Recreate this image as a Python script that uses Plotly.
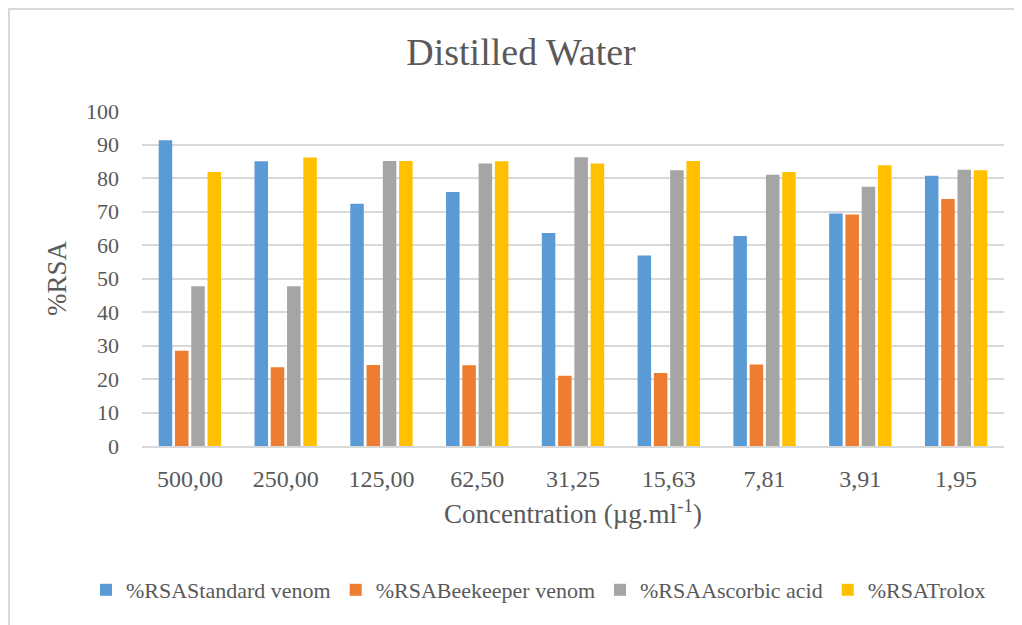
import plotly.graph_objects as go

categories = ["500,00", "250,00", "125,00", "62,50", "31,25", "15,63", "7,81", "3,91", "1,95"]
standard_venom = [91.3, 85.0, 72.3, 75.8, 63.6, 56.9, 62.7, 69.4, 80.7]
beekeeper_venom = [28.4, 23.5, 24.2, 24.1, 21.0, 21.8, 24.3, 69.1, 73.7]
ascorbic_acid = [47.7, 47.7, 85.1, 84.3, 86.2, 82.3, 81.0, 77.4, 82.5]
trolox = [81.8, 86.1, 85.1, 85.0, 84.3, 85.1, 81.8, 83.8, 82.3]

series = [
    ("%RSAStandard venom", standard_venom, "#5B9BD5"),
    ("%RSABeekeeper venom", beekeeper_venom, "#ED7D31"),
    ("%RSAAscorbic acid", ascorbic_acid, "#A5A5A5"),
    ("%RSATrolox", trolox, "#FFC000"),
]

FONT = "Liberation Serif, Times New Roman, DejaVu Serif, serif"
GREY = "#595959"

fig = go.Figure()
for name, vals, col in series:
    fig.add_trace(go.Bar(x=categories, y=vals, name=name, marker_color=col,
                         marker_line_width=0))

# page has an 8px body margin; work in page coordinates and convert
O = 8
W, H = 1022 - O, 625 - O
L, R, T, B = 142 - O, 1004 - O, 111 - O, 446 - O
pw, ph = R - L, B - T

def px(x):
    return (x - O - L) / pw

def py(y):
    return (B - (y - O)) / ph

fig.update_layout(
    width=W, height=H,
    margin=dict(l=L, r=W - R, t=T, b=H - B, autoexpand=False),
    paper_bgcolor="white", plot_bgcolor="white",
    barmode="group", bargap=0.32, bargroupgap=0.17,
    font=dict(family=FONT, color=GREY),
    title=dict(text="Distilled Water", font=dict(size=38, color=GREY, family=FONT),
               x=(521 - O) / W, xanchor="center", xref="container",
               y=1 - (52 - O) / H, yanchor="middle", yref="container"),
    legend=dict(orientation="h", x=px(86), xanchor="left", y=py(590),
                yanchor="middle", font=dict(size=22, color=GREY, family=FONT),
                itemwidth=30, tracegroupgap=0),
    xaxis=dict(showgrid=False, showline=True, linecolor="#d9d9d9", linewidth=1.5,
               automargin=False,
               tickfont=dict(size=24, color=GREY, family=FONT),
               ticklabelstandoff=10,
               title=dict(text="Concentration (µg.ml<sup>-1</sup>)",
                          font=dict(size=27, color=GREY, family=FONT), standoff=14)),
    yaxis=dict(range=[0, 100], dtick=10, showgrid=True, gridcolor="#d9d9d9",
               gridwidth=1.5, zeroline=False, automargin=False,
               tickfont=dict(size=22, color=GREY, family=FONT),
               ticklabelstandoff=22,
               title=dict(text="%RSA", font=dict(size=27, color=GREY, family=FONT),
                          standoff=11)),
    shapes=[dict(type="rect", xref="paper", yref="paper",
                 x0=px(9), x1=px(1040), y0=py(660), y1=py(9),
                 line=dict(color="#d9d9d9", width=2), fillcolor="rgba(0,0,0,0)",
                 layer="below")],
)

fig.write_html("out.html")
